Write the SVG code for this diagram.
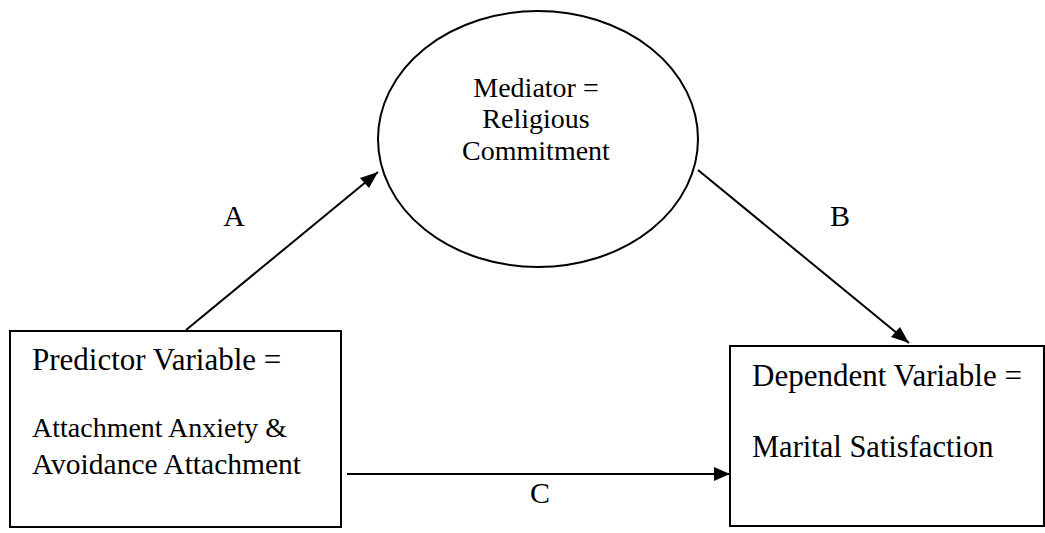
<svg xmlns="http://www.w3.org/2000/svg" width="1045" height="533" viewBox="0 0 1045 533">
<style>
  .shape { fill: #ffffff; stroke: #000000; stroke-width: 2; }
  .edge { stroke: #000000; stroke-width: 2; fill: none; }
  .head { fill: #000000; }
  text { font-family: "Liberation Serif", "Times New Roman", serif; fill: #000000; }
  .big { font-size: 31px; }
  .lbl { font-size: 30px; }
  .mid { font-size: 28px; }
</style>
<rect width="1045" height="533" fill="#ffffff"/>
<g id="connectors">
  <line class="edge" x1="186" y1="330" x2="378" y2="172"/>
  <path class="head" d="M378,172 L360,178 L369,188 z"/>
  <line class="edge" x1="698" y1="170" x2="909" y2="343"/>
  <path class="head" d="M909,343 L891,337 L900,327 z"/>
  <line class="edge" x1="347" y1="474" x2="730" y2="474"/>
  <path class="head" d="M730,474 L714,467 L714,481 z"/>
  <text class="lbl" x="234" y="226" text-anchor="middle">A</text>
  <text class="lbl" x="840" y="226" text-anchor="middle">B</text>
  <text class="lbl" x="540" y="503" text-anchor="middle">C</text>
</g>
<g id="mediator">
  <ellipse class="shape" cx="538" cy="139" rx="160" ry="128"/>
  <text class="mid" x="536" y="97" text-anchor="middle">Mediator =</text>
  <text class="mid" x="536" y="128" text-anchor="middle">Religious</text>
  <text class="mid" x="536" y="160" text-anchor="middle">Commitment</text>
</g>
<g id="predictor">
  <rect class="shape" x="10" y="331" width="331" height="196"/>
  <text class="big" x="32" y="370">Predictor Variable =</text>
  <text class="mid" x="32" y="437">Attachment Anxiety &amp;</text>
  <text x="32" y="474" style="font-size:29.5px">Avoidance Attachment</text>
</g>
<g id="dependent">
  <rect class="shape" x="730" y="346" width="314" height="180"/>
  <text class="big" x="752" y="386">Dependent Variable =</text>
  <text x="752" y="457" style="font-size:30.5px">Marital Satisfaction</text>
</g>
</svg>
